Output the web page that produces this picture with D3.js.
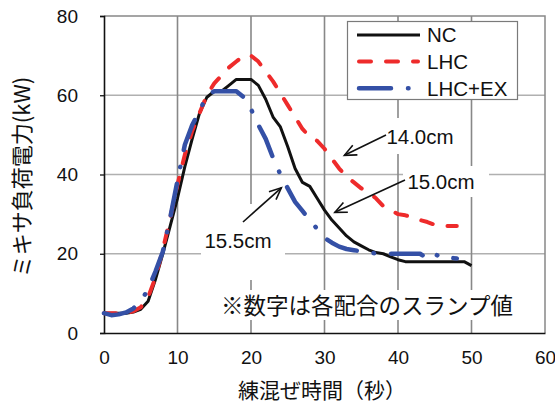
<!DOCTYPE html>
<html><head><meta charset="utf-8">
<script src="https://cdn.jsdelivr.net/npm/d3@7"></script>
<style>
html,body{margin:0;padding:0;background:#fff;}
svg{display:block;}
</style></head>
<body>
<svg id="chart" width="555" height="408"></svg>
<script>
// ---- data ----
const time = [0,1,2,3,4,5,6,7,8,9,10,11,12,13,14,15,16,17,18,19,20,21,22,23,24,25,26,27,28,29,30,31,32,33,34,35,36,37,38,39,40,41,42,43,44,45,46,47,48,49,50];
const seriesNames = ["NC","LHC","LHC+EX"];
const ncPower = [5,5,5,5,5.3,6,8,13.5,20,27,34,42,49,55.5,59.5,61,61,62.5,64,64,64,62.5,59,54.5,52,47,41.5,38,37,34,31,28.5,26.5,24.5,23,22,21,20.3,20,19.2,18.5,18,18,18,18,18,18,18,18,18,17];
const lhcPower = [5,5,5,5,5.5,6.5,9,14,21,29,37.5,45,51,55.5,60,63,65,67,68.5,70,70,68.5,66,63.5,60.5,57.5,54.5,51.5,49.5,48.5,46.5,44,41.5,39.5,38,36.5,35.5,34,32,31,30,29.7,29.2,28.5,28,27.3,27,27,27,null,null];
const lhcExPower = [5,4.5,4.7,5.2,6.2,8,11,15.5,20.5,29,38.5,47.5,52.5,56,60,61,61,61,61,59.5,56.5,52.5,49,44.2,40,36.5,33.1,30.8,28.4,26.3,24,22.8,21.8,21.2,20.9,20.6,20.3,20.1,20,20,20,20,20,20,18.8,20,18.8,19,18.8,null,null];
const xTicks = [0,10,20,30,40,50,60];
const yTicks = [0,20,40,60,80];
const xTitle = "練混ぜ時間（秒）";
const yTitle = "ミキサ負荷電力(kW)";
const note = "※数字は各配合のスランプ値";
const annotations = [
  {label:"14.0cm", t:32.3, v:44.6, lx:420, ly:137},
  {label:"15.0cm", t:31.0, v:30.2, lx:441, ly:182},
  {label:"15.5cm", t:24.4, v:37.4, lx:238, ly:241}
];

// ---- layout ----
const svg = d3.select("#chart");
const x = d3.scaleLinear().domain([0,60]).range([104,545]);
const y = d3.scaleLinear().domain([0,80]).range([333,16]);
const latin = "'Liberation Sans', Arial, sans-serif";
const cjk = "'Noto Sans CJK JP', sans-serif";
const colors = {"NC":"#111111","LHC":"#ee2b2b","LHC+EX":"#3450a6"};

// gridlines
svg.append("g").selectAll("line").data(yTicks.filter(d=>d>0 && d<80)).join("line")
  .attr("x1",x(0)).attr("x2",x(60)).attr("y1",d=>y(d)).attr("y2",d=>y(d))
  .attr("stroke","#b0b0b0").attr("stroke-width",1.3);
svg.append("g").selectAll("line").data(xTicks.filter(d=>d>0 && d<60)).join("line")
  .attr("x1",d=>x(d)).attr("x2",d=>x(d)).attr("y1",y(0)).attr("y2",y(80))
  .attr("stroke","#888888").attr("stroke-width",1.6);
// top/right border
svg.append("path").attr("d",`M${x(0)},${y(80)}H${x(60)}V${y(0)}`)
  .attr("fill","none").attr("stroke","#888").attr("stroke-width",1.5);

// white label boxes (hide gridlines)
const boxes = [[383,118,76,36],[403,166,86,31],[201,204,84,76],[216,290,302,30]];
svg.append("g").selectAll("rect").data(boxes).join("rect")
  .attr("x",d=>d[0]).attr("y",d=>d[1]).attr("width",d=>d[2]).attr("height",d=>d[3])
  .attr("fill","#fff");

// axes
const yAxis = d3.axisLeft(y).tickValues(yTicks).tickSize(4).tickPadding(22).tickFormat(d3.format("d"));
const gy = svg.append("g").attr("transform",`translate(${x(0)},0)`).call(yAxis);
const xAxis = d3.axisBottom(x).tickValues(xTicks).tickSize(0).tickPadding(18).tickFormat(d3.format("d"));
const gx = svg.append("g").attr("transform",`translate(0,${y(0)})`).call(xAxis);
[gx,gy].forEach(g=>{
  g.select(".domain").attr("stroke","#111").attr("stroke-width",1.6);
  g.selectAll(".tick line").attr("stroke","#111").attr("stroke-width",1.3);
  g.selectAll("text").attr("font-family",latin).attr("font-size",19).attr("fill","#111");
});

// series
const line = d3.line().defined(d=>d[1]!=null).x(d=>x(d[0])).y(d=>y(d[1]));
const styles = {
  "NC":{w:3,dash:null},
  "LHC":{w:4,dash:"12 15"},
  "LHC+EX":{w:4.5,dash:"32 17 0.5 17"}
};
const data = {"NC":ncPower,"LHC":lhcPower,"LHC+EX":lhcExPower};
seriesNames.forEach(n=>{
  const pts = time.map((t,i)=>[t,data[n][i]]);
  svg.append("path").datum(pts).attr("d",line)
    .attr("fill","none").attr("stroke",colors[n]).attr("stroke-width",styles[n].w)
    .attr("stroke-linejoin","round").attr("stroke-linecap",styles[n].dash?"round":"butt")
    .attr("stroke-dasharray",styles[n].dash);
});

// legend
const lg = svg.append("g");
lg.append("rect").attr("x",347.5).attr("y",21.5).attr("width",170).attr("height",78)
  .attr("fill","#fff").attr("stroke","#7a7a7a").attr("stroke-width",1.2);
seriesNames.forEach((n,i)=>{
  const yy = 35 + i*26.6;
  lg.append("line").attr("x1",n==="NC"?357:359).attr("x2",n==="NC"?420:418).attr("y1",yy).attr("y2",yy)
    .attr("stroke",colors[n]).attr("stroke-width",styles[n].w)
    .attr("stroke-linecap",styles[n].dash?"round":"butt")
    .attr("stroke-dasharray",styles[n].dash);
  lg.append("text").attr("x",427).attr("y",yy).attr("dy","0.36em")
    .attr("font-family",latin).attr("font-size",20.5).attr("fill","#111").text(n);
});

// annotations with arrows
function arrow(x1,y1,x2,y2){
  const a = Math.atan2(y2-y1,x2-x1), L=13, s=0.42;
  svg.append("line").attr("x1",x1).attr("y1",y1).attr("x2",x2).attr("y2",y2)
    .attr("stroke","#111").attr("stroke-width",1.6);
  svg.append("path").attr("d",`M${x2-L*Math.cos(a-s)},${y2-L*Math.sin(a-s)}L${x2},${y2}L${x2-L*Math.cos(a+s)},${y2-L*Math.sin(a+s)}`)
    .attr("fill","none").attr("stroke","#111").attr("stroke-width",1.6);
}
const starts = [[386,135],[405,180],[243,222]];
annotations.forEach((a,i)=>{
  arrow(starts[i][0],starts[i][1],x(a.t)+ (i===2?-2:3),y(a.v)+(i===2?3:-1));
  svg.append("text").attr("x",a.lx).attr("y",a.ly).attr("dy","0.36em").attr("text-anchor","middle")
    .attr("font-family",latin).attr("font-size",20.5).attr("fill","#111").text(a.label);
});

// note
svg.append("text").attr("x",367).attr("y",306).attr("dy","0.36em").attr("text-anchor","middle")
  .attr("font-family",cjk).attr("font-size",22.5).attr("fill","#111").text(note);

// axis titles
svg.append("text").attr("x",322).attr("y",390).attr("dy","0.36em").attr("text-anchor","middle")
  .attr("font-family",cjk).attr("font-size",21).attr("fill","#111").text(xTitle);
svg.append("text").attr("transform","translate(22,177) rotate(-90)").attr("dy","0.36em").attr("text-anchor","middle")
  .attr("font-family",cjk).attr("font-size",22).attr("fill","#111").text(yTitle);
</script>
</body></html>
